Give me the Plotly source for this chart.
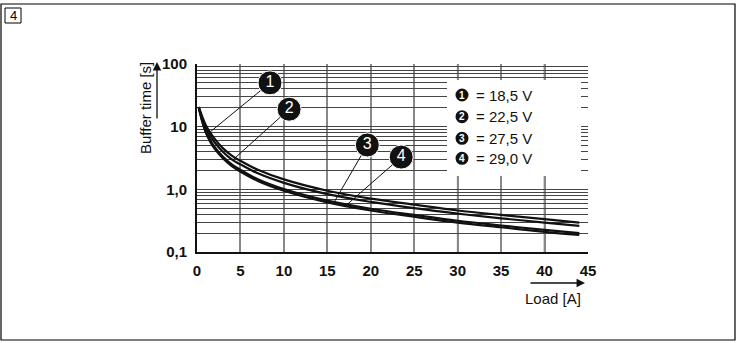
import plotly.graph_objects as go

# ---- data ----
load_a = [0.2, 0.6, 1, 1.5, 2, 3, 4, 5, 7, 10, 15, 20, 25, 30, 35, 40, 44]
t_185 = [20.5, 14.5, 10.6, 8.1, 6.5, 4.5, 3.45, 2.85, 2.05, 1.44, 0.95, 0.71, 0.57, 0.46, 0.39, 0.335, 0.295]
t_225 = [20.5, 13.5, 9.6, 7.2, 5.7, 3.95, 3.0, 2.5, 1.8, 1.27, 0.84, 0.63, 0.50, 0.41, 0.345, 0.295, 0.262]
t_275 = [20.5, 12.5, 8.6, 6.2, 4.8, 3.3, 2.5, 2.05, 1.45, 1.01, 0.66, 0.49, 0.39, 0.315, 0.265, 0.225, 0.2]
t_290 = [20.0, 12.0, 8.1, 5.8, 4.5, 3.1, 2.35, 1.92, 1.36, 0.95, 0.62, 0.46, 0.365, 0.295, 0.248, 0.21, 0.187]
series = [t_185, t_225, t_275, t_290]
legend_labels = ["= 18,5 V", "= 22,5 V", "= 27,5 V", "= 29,0 V"]
callout_nums = ["1", "2", "3", "4"]
callout_x = [8.4, 10.6, 19.6, 23.5]
callout_y = [50, 19, 5.1, 3.27]
leader_end_x = [1.5, 4.1, 15.8, 17.0]
leader_end_y = [8.2, 2.93, 0.63, 0.53]
x_ticks = [0, 5, 10, 15, 20, 25, 30, 35, 40, 45]
y_grid = [0.1, 0.2, 0.3, 0.4, 0.5, 0.6, 0.7, 0.8, 0.9,
          1, 2, 3, 4, 5, 6, 7, 8, 9,
          10, 20, 30, 40, 50, 60, 70, 80, 90, 100]
y_labels = {0.1: "0,1", 1: "1,0", 10: "10", 100: "100"}

FONT = "Liberation Sans, Arial, Helvetica, sans-serif"
W, H = 738, 343
L, R, T, B = 197, 150, 64, 91
PW, PH = W - L - R, H - T - B


def xp(px):
    return (px - L) / PW


def yp(py):
    return (H - B - py) / PH


fig = go.Figure()

for s in series:
    fig.add_trace(go.Scatter(x=load_a, y=s, mode="lines",
                             line=dict(color="#111", width=2.2, shape="spline"),
                             hoverinfo="skip", showlegend=False))

for i in range(4):
    fig.add_trace(go.Scatter(x=[callout_x[i], leader_end_x[i]],
                             y=[callout_y[i], leader_end_y[i]], mode="lines",
                             line=dict(color="#111", width=1),
                             hoverinfo="skip", showlegend=False))

fig.add_trace(go.Scatter(x=callout_x, y=callout_y, mode="markers+text",
                         text=callout_nums, textposition="middle center",
                         textfont=dict(family=FONT, size=16, color="white"),
                         marker=dict(size=24, color="#111", line=dict(width=1, color="white")),
                         hoverinfo="skip", showlegend=False))

shapes = []
# black vertical grid lines at 10-multiples
for v in [10, 20, 30, 40]:
    shapes.append(dict(type="line", xref="x", yref="paper", x0=v, x1=v, y0=0, y1=1,
                       line=dict(color="#111", width=1.5), layer="below"))
# legend box
shapes.append(dict(type="rect", xref="paper", yref="paper",
                   x0=xp(447), x1=xp(581), y0=yp(176), y1=yp(80),
                   fillcolor="white", line=dict(width=0), layer="above"))
# outer frame
shapes.append(dict(type="rect", xref="paper", yref="paper",
                   x0=xp(1), x1=xp(735), y0=yp(340), y1=yp(4),
                   line=dict(color="black", width=1.2), fillcolor="rgba(0,0,0,0)"))
# "4" box
shapes.append(dict(type="rect", xref="paper", yref="paper",
                   x0=xp(5), x1=xp(21), y0=yp(23), y1=yp(8),
                   line=dict(color="black", width=1), fillcolor="rgba(0,0,0,0)"))

annotations = []
legend_rows = [95, 116.7, 138.3, 158.3]
for i in range(4):
    cy = yp(legend_rows[i])
    shapes.append(dict(type="circle", xref="paper", yref="paper",
                       xsizemode="pixel", ysizemode="pixel",
                       xanchor=xp(462), yanchor=cy, x0=-6.5, x1=6.5, y0=-6.5, y1=6.5,
                       fillcolor="#111", line=dict(width=0), layer="above"))
    annotations.append(dict(xref="paper", yref="paper", x=xp(462), y=cy,
                            text=callout_nums[i], showarrow=False,
                            font=dict(family=FONT, size=10, color="white", weight="bold"),
                            xanchor="center", yanchor="middle"))
    annotations.append(dict(xref="paper", yref="paper", x=xp(474), y=cy,
                            text=legend_labels[i], showarrow=False,
                            font=dict(family=FONT, size=15, color="#111"),
                            xanchor="left", yanchor="middle"))

annotations += [
    dict(xref="paper", yref="paper", x=xp(13), y=yp(15.5), text="4", showarrow=False,
         font=dict(family=FONT, size=13, color="black"), xanchor="center", yanchor="middle"),
    dict(xref="paper", yref="paper", x=xp(145), y=yp(108), text="Buffer time [s]",
         textangle=-90, showarrow=False, font=dict(family=FONT, size=15, color="#111"),
         xanchor="center", yanchor="middle"),
    dict(xref="paper", yref="paper", x=xp(157), y=yp(62), ax=0, ay=58, text="",
         showarrow=True, arrowhead=2, arrowsize=1.3, arrowwidth=1.3, arrowcolor="#111"),
    dict(xref="paper", yref="paper", x=xp(585), y=yp(283), ax=-56, ay=0, text="",
         showarrow=True, arrowhead=2, arrowsize=1.3, arrowwidth=1.3, arrowcolor="#111"),
    dict(xref="paper", yref="paper", x=xp(553), y=yp(298), text="Load [A]", showarrow=False,
         font=dict(family=FONT, size=15, color="#111"), xanchor="center", yanchor="middle"),
]

fig.update_layout(
    width=W, height=H, margin=dict(l=L, r=R, t=T, b=B),
    paper_bgcolor="white", plot_bgcolor="white",
    shapes=shapes, annotations=annotations,
    xaxis=dict(range=[0, 45], tickvals=x_ticks, ticktext=[str(v) for v in x_ticks],
               showgrid=True, gridcolor="#888", gridwidth=1.5, zeroline=False,
               showline=True, linecolor="#111", linewidth=2,
               ticks="outside", ticklen=4, tickcolor="rgba(0,0,0,0)",
               tickfont=dict(family=FONT, size=15, color="#111", weight="bold")),
    yaxis=dict(type="log", range=[-1, 2], tickvals=y_grid,
               ticktext=[y_labels.get(v, "") for v in y_grid],
               showgrid=True, gridcolor="#444", gridwidth=1, zeroline=False,
               showline=True, linecolor="#111", linewidth=2,
               ticks="outside", ticklen=5, tickcolor="rgba(0,0,0,0)",
               tickfont=dict(family=FONT, size=15, color="#111", weight="bold")),
)

fig.write_html("out.html", config={"displayModeBar": False},
               post_script="document.body.style.margin='0';document.body.style.overflow='hidden';")
